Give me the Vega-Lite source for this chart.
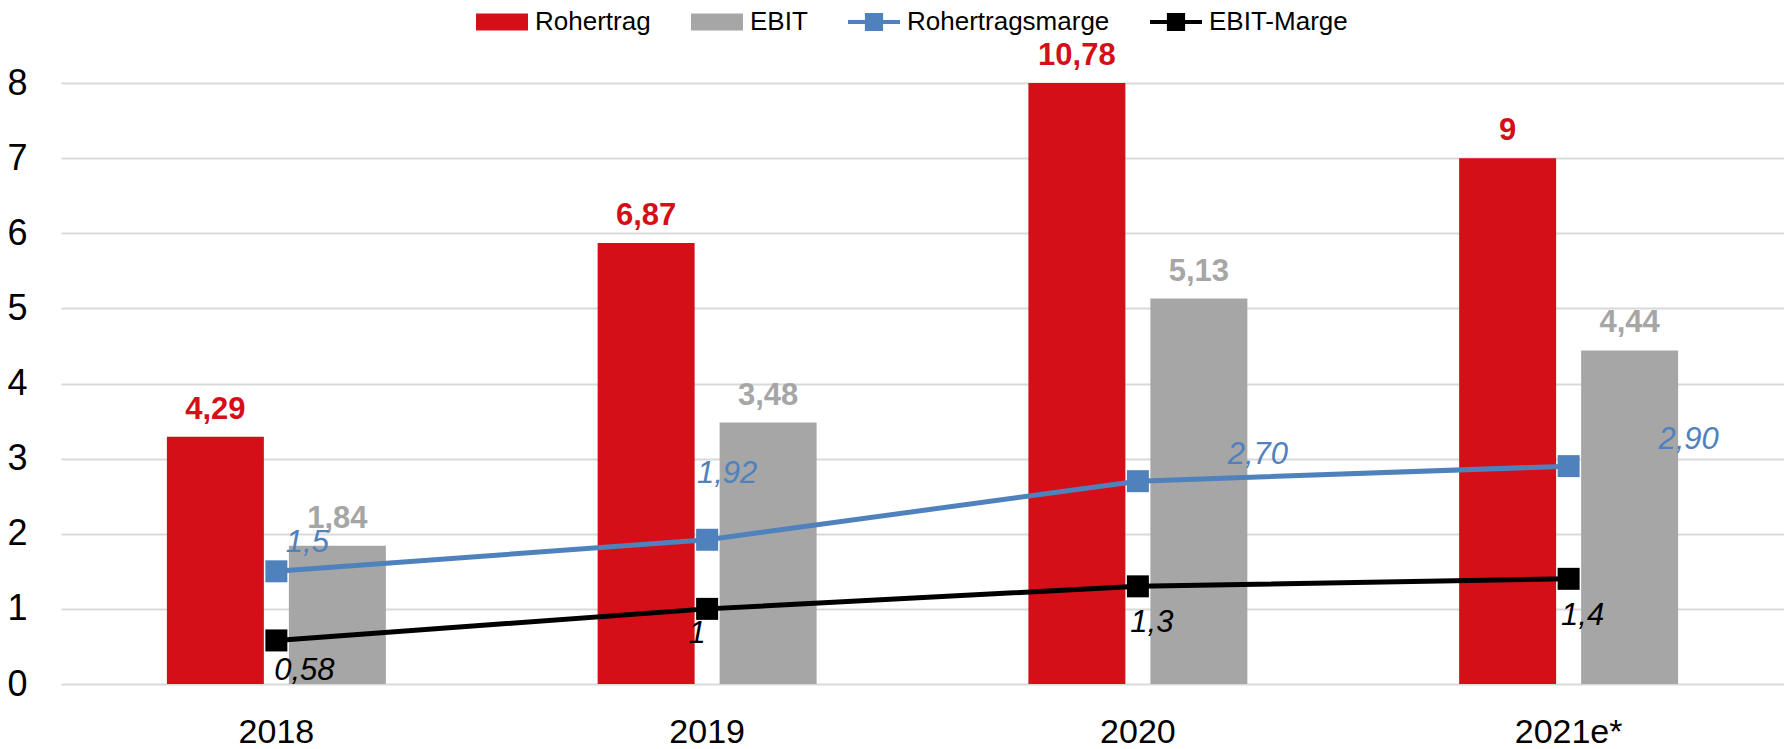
{
  "$schema": "https://vega.github.io/schema/vega-lite/v6.json",
  "width": 1723,
  "height": 601,
  "autosize": {"type": "none"},
  "padding": {"left": 61, "top": 83, "right": 0, "bottom": 65},
  "background": "white",
  "config": {
    "view": {"stroke": null},
    "font": "Liberation Sans, Arial, sans-serif",
    "text": {"font": "Liberation Sans, Arial, sans-serif"}
  },
  "data": {
    "values": [
      {"year": "2018", "series": "Rohertrag", "value": 3.29, "label": "4,29"},
      {"year": "2019", "series": "Rohertrag", "value": 5.87, "label": "6,87"},
      {"year": "2020", "series": "Rohertrag", "value": 8.0, "label": "10,78"},
      {"year": "2021e*", "series": "Rohertrag", "value": 7.0, "label": "9"},
      {"year": "2018", "series": "EBIT", "value": 1.84, "label": "1,84"},
      {"year": "2019", "series": "EBIT", "value": 3.48, "label": "3,48"},
      {"year": "2020", "series": "EBIT", "value": 5.13, "label": "5,13"},
      {"year": "2021e*", "series": "EBIT", "value": 4.44, "label": "4,44"},
      {"year": "2018", "series": "Rohertragsmarge", "value": 1.5, "label": "1,5"},
      {"year": "2019", "series": "Rohertragsmarge", "value": 1.92, "label": "1,92"},
      {"year": "2020", "series": "Rohertragsmarge", "value": 2.7, "label": "2,70"},
      {"year": "2021e*", "series": "Rohertragsmarge", "value": 2.9, "label": "2,90"},
      {"year": "2018", "series": "EBIT-Marge", "value": 0.58, "label": "0,58"},
      {"year": "2019", "series": "EBIT-Marge", "value": 1.0, "label": "1"},
      {"year": "2020", "series": "EBIT-Marge", "value": 1.3, "label": "1,3"},
      {"year": "2021e*", "series": "EBIT-Marge", "value": 1.4, "label": "1,4"}
    ]
  },
  "encoding": {
    "x": {
      "field": "year", "type": "nominal", "sort": null,
      "scale": {"paddingInner": 0, "paddingOuter": 0},
      "axis": {"title": null, "domain": false, "ticks": false, "tickSize": 0, "labelAngle": 0, "labelFontSize": 34, "labelColor": "#000000", "labelPadding": 31, "labelFont": "Liberation Sans, Arial, sans-serif"}
    },
    "y": {
      "field": "value", "type": "quantitative",
      "scale": {"domain": [0, 8], "nice": false},
      "axis": {"title": null, "domain": false, "ticks": false, "tickSize": 0, "values": [0, 1, 2, 3, 4, 5, 6, 7, 8], "gridColor": "#d9d9d9", "gridWidth": 2, "labelFontSize": 36, "labelColor": "#000000", "labelPadding": 34, "labelFont": "Liberation Sans, Arial, sans-serif"}
    },
    "color": {
      "field": "series", "type": "nominal",
      "scale": {"domain": ["Rohertrag", "EBIT", "Rohertragsmarge", "EBIT-Marge"], "range": ["#d40f17", "#a6a6a6", "#4f81bd", "#000000"]},
      "legend": {
        "orient": "none", "legendX": 415, "legendY": -87, "direction": "horizontal", "title": null,
        "labelFontSize": 26, "labelColor": "#000000", "labelFont": "Liberation Sans, Arial, sans-serif", "labelLimit": 400,
        "symbolSize": 2704, "labelOffset": 7, "columnPadding": 40, "padding": 0,
        "encode": {
          "symbols": {
            "update": {
              "shape": {"signal": "indexof(['Rohertrag','EBIT'], datum.value) >= 0 ? 'M-1,-0.33H1V0.33H-1Z' : 'M-1,-0.08H1V0.08H-1Z M-0.35,-0.35H0.35V0.35H-0.35Z'"},
              "fill": {"signal": "scale('color', datum.value)"},
              "stroke": {"value": "transparent"},
              "strokeWidth": {"value": 0},
              "opacity": {"value": 1},
              "size": {"value": 2704}
            }
          }
        }
      }
    }
  },
  "layer": [
    {
      "transform": [{"filter": "datum.series === 'Rohertrag' || datum.series === 'EBIT'"}],
      "mark": {"type": "bar"},
      "encoding": {
        "xOffset": {"field": "series", "type": "nominal", "scale": {"domain": ["Rohertrag", "EBIT"], "paddingInner": 0.205, "paddingOuter": 0.868}}
      }
    },
    {
      "transform": [{"filter": "datum.series === 'Rohertragsmarge' || datum.series === 'EBIT-Marge'"}],
      "mark": {"type": "line", "strokeWidth": 5},
      "encoding": {}
    },
    {
      "transform": [{"filter": "datum.series === 'Rohertragsmarge' || datum.series === 'EBIT-Marge'"}],
      "mark": {"type": "point", "shape": "square", "filled": true, "size": 484, "opacity": 1},
      "encoding": {}
    },
    {
      "transform": [{"filter": "datum.series === 'Rohertrag' || datum.series === 'EBIT'"}],
      "mark": {"type": "text", "fontSize": 31, "fontWeight": "bold", "baseline": "alphabetic", "dy": -18},
      "encoding": {
        "xOffset": {"field": "series", "type": "nominal"},
        "text": {"field": "label"}
      }
    },
    {
      "transform": [{"filter": "datum.series === 'Rohertragsmarge' && datum.year === '2018'"}],
      "mark": {"type": "text", "fontSize": 31, "fontStyle": "italic", "baseline": "alphabetic", "dx": 31, "dy": -19},
      "encoding": {"text": {"field": "label"}}
    },
    {
      "transform": [{"filter": "datum.series === 'Rohertragsmarge' && datum.year === '2019'"}],
      "mark": {"type": "text", "fontSize": 31, "fontStyle": "italic", "baseline": "alphabetic", "dx": 20, "dy": -57},
      "encoding": {"text": {"field": "label"}}
    },
    {
      "transform": [{"filter": "datum.series === 'Rohertragsmarge' && (datum.year === '2020' || datum.year === '2021e*')"}],
      "mark": {"type": "text", "fontSize": 31, "fontStyle": "italic", "baseline": "alphabetic", "dx": 120, "dy": -17},
      "encoding": {"text": {"field": "label"}}
    },
    {
      "transform": [{"filter": "datum.series === 'EBIT-Marge' && datum.year === '2018'"}],
      "mark": {"type": "text", "fontSize": 31, "fontStyle": "italic", "baseline": "alphabetic", "dx": 28, "dy": 40},
      "encoding": {"text": {"field": "label"}}
    },
    {
      "transform": [{"filter": "datum.series === 'EBIT-Marge' && datum.year === '2019'"}],
      "mark": {"type": "text", "fontSize": 31, "fontStyle": "italic", "baseline": "alphabetic", "dx": -10, "dy": 34},
      "encoding": {"text": {"field": "label"}}
    },
    {
      "transform": [{"filter": "datum.series === 'EBIT-Marge' && (datum.year === '2020' || datum.year === '2021e*')"}],
      "mark": {"type": "text", "fontSize": 31, "fontStyle": "italic", "baseline": "alphabetic", "dx": 14, "dy": 46},
      "encoding": {"text": {"field": "label"}}
    }
  ]
}
